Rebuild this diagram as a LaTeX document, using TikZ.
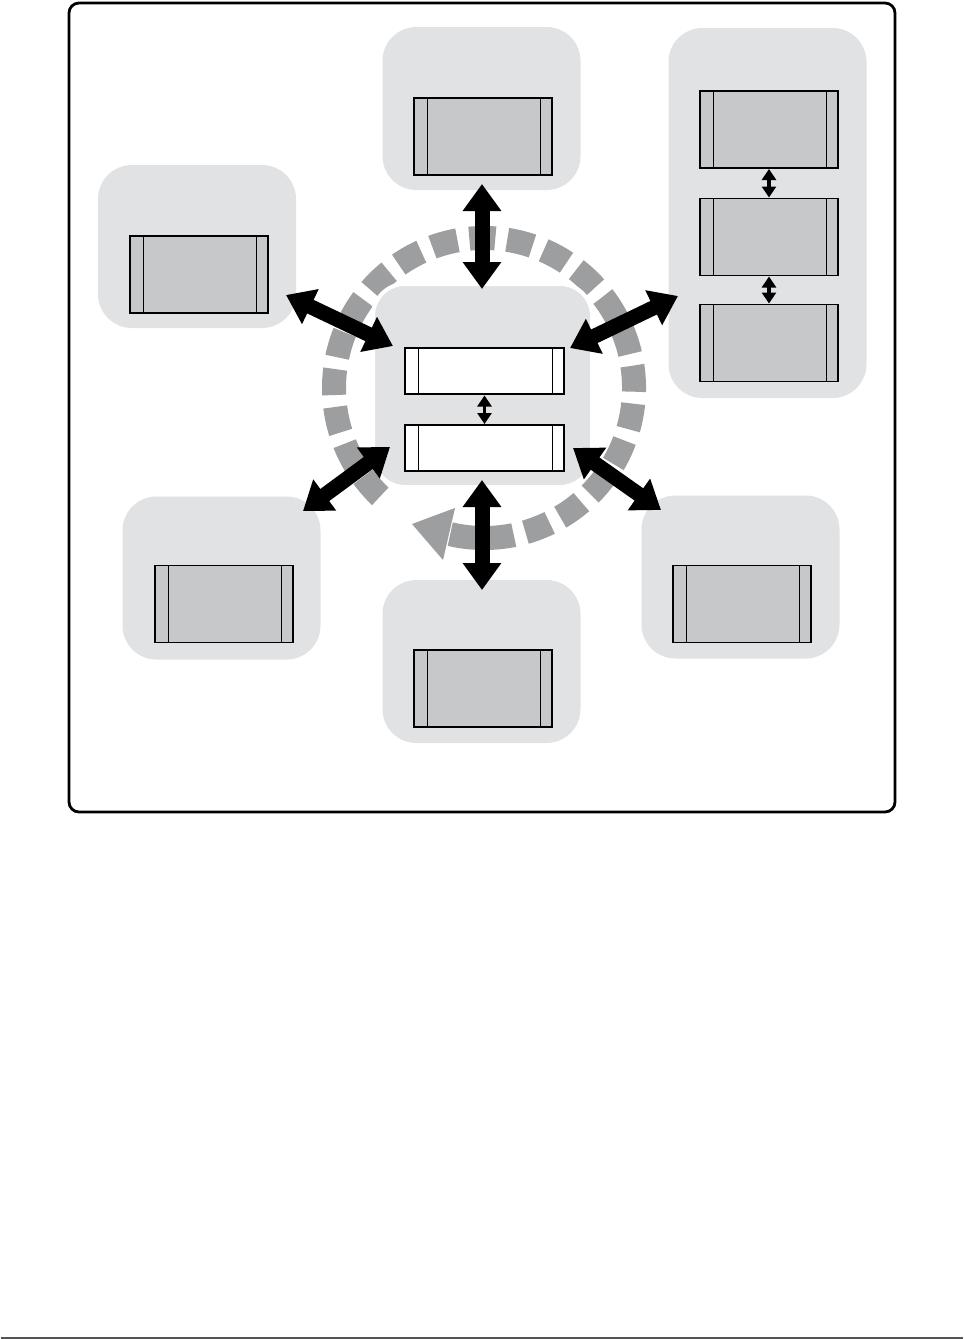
\documentclass[tikz,border=0pt]{standalone}
\usetikzlibrary{arrows.meta}
\definecolor{panel}{HTML}{E1E2E4}
\definecolor{boxgray}{HTML}{C7C8CA}
\definecolor{ringgray}{HTML}{9D9EA0}
\definecolor{rulegray}{HTML}{555555}
\begin{document}
\begin{tikzpicture}[x=1pt,y=-1pt,
  panelbox/.style={draw=none, fill=panel, rounded corners=34pt, minimum width=198pt, minimum height=163pt, inner sep=0pt, outer sep=0pt},
  unitbox/.style={draw=black, line width=1.8pt, fill=boxgray, minimum width=138pt, minimum height=77pt, inner sep=0pt, outer sep=0pt,
    path picture={\draw[line width=1pt]
      ([xshift=13pt]path picture bounding box.south west) -- ([xshift=13pt]path picture bounding box.north west)
      ([xshift=-11.5pt]path picture bounding box.south east) -- ([xshift=-11.5pt]path picture bounding box.north east);}},
  whitebox/.style={unitbox, fill=white, minimum width=159pt, minimum height=46pt},
  bigarrow/.style={line width=15pt, {Triangle[length=27pt,width=37pt]}-{Triangle[length=27pt,width=37pt]}},
  smallarrow/.style={line width=3.5pt, {Triangle[length=11pt,width=14pt]}-{Triangle[length=11pt,width=14pt]}},
  ring/.style={draw=ringgray, line width=24pt, dash pattern=on 26pt off 12pt}
]
% page
\fill[white] (0,0) rectangle (965,1339);
\useasboundingbox (0,0) rectangle (965,1339);
% frame
\draw[line width=2.8pt, rounded corners=10pt] (69,3) rectangle (895,812);
\draw[rulegray, line width=2.3pt] (1,1337.8) -- (963,1337.8);

% outer panels
\node[panelbox] (ptop) at (481.5,108.5) {};
\node[panelbox] (pul)  at (197,246.5) {};
\node[panelbox] (pll)  at (221.5,578) {};
\node[panelbox] (pbot) at (481.5,661.5) {};
\node[panelbox] (plr)  at (740.5,577) {};
\node[panelbox, minimum height=370pt] (pright) at (767.5,213) {};

% units
\node[unitbox] (utop) at (483,136.5) {};
\node[unitbox] (uul)  at (199,274.5) {};
\node[unitbox] (ull)  at (224,604) {};
\node[unitbox] (ubot) at (483,688.5) {};
\node[unitbox] (ulr)  at (742,604) {};
\node[unitbox] (ur1)  at (769,129.5) {};
\node[unitbox] (ur2)  at (769,237) {};
\node[unitbox] (ur3)  at (769,343) {};

% ring
\coordinate (rc) at (484,388);
\draw[ring] (rc) ++(103:150) arc[start angle=103, end angle=-230, radius=150];
\fill[ringgray] (412,524) -- (455,508) -- (443,560) -- cycle;

% center panel
\node[panelbox, draw=white, line width=4pt, minimum width=219pt, minimum height=203pt, rounded corners=32pt] (pc) at (482.5,385.5) {};
\node[whitebox] (w1) at (484.5,371) {};
\node[whitebox] (w2) at (484.5,448) {};

% arrow end points
\coordinate (at1) at (482,184);  \coordinate (at2) at (482,289);
\coordinate (ab1) at (482,480);  \coordinate (ab2) at (482,590);
\coordinate (aul1) at (286,295); \coordinate (aul2) at (393,346);
\coordinate (aur1) at (570,348); \coordinate (aur2) at (678,296);
\coordinate (all1) at (303,511); \coordinate (all2) at (390,447);
\coordinate (alr1) at (573,448); \coordinate (alr2) at (661,510);

\draw[bigarrow] (at1) -- (at2);
\draw[bigarrow] (ab1) -- (ab2);
\draw[bigarrow] (aul1) -- (aul2);
\draw[bigarrow] (aur1) -- (aur2);
\draw[bigarrow] (all1) -- (all2);
\draw[bigarrow] (alr1) -- (alr2);

% small arrows
\draw[smallarrow] (w1.south) ++(0,1.5) coordinate (s1) -- ([yshift=1pt]w2.north);
\draw[smallarrow] ([yshift=-1pt]ur1.south) -- ([yshift=1pt]ur2.north);
\draw[smallarrow] ([yshift=-1pt]ur2.south) -- ([yshift=1pt]ur3.north);
\end{tikzpicture}
\end{document}
